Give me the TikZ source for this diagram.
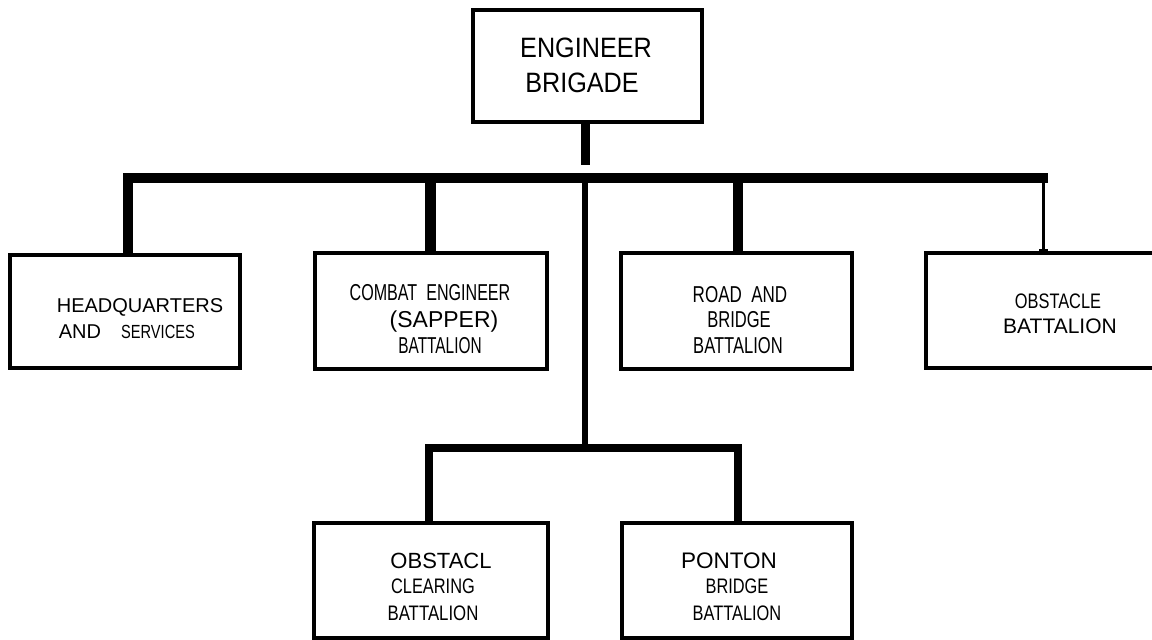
\documentclass[tikz,border=0pt]{standalone}
\usepackage{fontspec}
\setmainfont{Liberation Sans}
\usepackage{graphicx}
\usetikzlibrary{arrows.meta}
\newcommand\nar[2]{\scalebox{#1}[1]{#2}}
\newcommand\fs[1]{\fontsize{#1}{#1}\selectfont}
\begin{document}
\begin{tikzpicture}[x=1pt,y=-1pt,
  unitbox/.style={draw=black,line width=3.5pt,minimum width=#1,inner sep=0pt,line join=miter},
  lbl/.style={anchor=base,inner sep=0pt},
  busline/.style={line width=10pt,line join=miter,line cap=butt},
  thinline/.style={line width=3pt,line cap=butt}]
\useasboundingbox (0,0) rectangle (1152,640);
% boxes
\node[unitbox=229pt,minimum height=112pt,line width=4pt] (brig) at (587.5,66) {};
\node[unitbox=230pt,minimum height=113pt] (hq) at (125,311.5) {};
\node[unitbox=232pt,minimum height=116pt] (combat) at (431,311) {};
\node[unitbox=231pt,minimum height=116pt] (road) at (736.5,311) {};
\node[unitbox=254pt,minimum height=115pt] (obst) at (1053,310.5) {};
\node[unitbox=234pt,minimum height=115pt] (obcl) at (431,580.5) {};
\node[unitbox=230pt,minimum height=115pt] (ponton) at (737,580.5) {};
% coordinates of the buses
\coordinate (stemend) at (585.5,165);
\coordinate (busL) at (127.5,178);
\coordinate (busR) at (1048,178);
\coordinate (sbL) at (429,448);
\coordinate (sbR) at (738,448);
% connectors
\draw[line width=9pt] (brig.south -| stemend) -- (stemend);
\draw[busline] (hq.north -| busL) -- (busL) -- (busR);
\draw[line width=11pt] (combat.north -| 430.5,178) -- (430.5,178);
\draw[line width=10pt] (road.north -| 738,178) -- (738,178);
\draw[line width=6pt] (584.5,178) -- (sbL -| 584.5,0);
\draw[thinline,-{Bar[width=9pt,line width=2.5pt]}] (1043,178) -- (obst.north -| 1043,0);
\draw[line width=8pt,line join=miter] (obcl.north -| sbL) -- (sbL) -- (sbR) -- (ponton.north -| sbR);
% texts
\node[lbl] (t1) at (586,57) {\fs{28}\nar{0.9}{ENGINEER}};
\node[lbl] (t2) at (582,92) {\fs{28}\nar{0.9}{BRIGADE}};
\node[lbl] (t3) at (140,312) {\fs{20}HEADQUARTERS};
\node[lbl] (t4) at (80,338) {\fs{20}AND};
\node[lbl] (t5) at (158,338) {\fs{19}\nar{0.77}{SERVICES}};
\node[lbl] (t6) at (430,300) {\fs{23}\nar{0.7}{COMBAT\ \ ENGINEER}};
\node[lbl] (t7) at (444,327) {\fs{23}(SAPPER)};
\node[lbl] (t8) at (440,353) {\fs{23}\nar{0.67}{BATTALION}};
\node[lbl] (t9) at (740,302) {\fs{23}\nar{0.74}{ROAD\ \ AND}};
\node[lbl] (t10) at (739,327) {\fs{23}\nar{0.72}{BRIDGE}};
\node[lbl] (t11) at (738,353) {\fs{23}\nar{0.72}{BATTALION}};
\node[lbl] (t12) at (1058,308) {\fs{21}\nar{0.78}{OBSTACLE}};
\node[lbl] (t13) at (1060,333) {\fs{21}BATTALION};
\node[lbl] (t14) at (441,568) {\fs{22}OBSTACL};
\node[lbl] (t15) at (433,593) {\fs{21}\nar{0.78}{CLEARING}};
\node[lbl] (t16) at (433,620) {\fs{21}\nar{0.8}{BATTALION}};
\node[lbl] (t17) at (729,568) {\fs{22.5}PONTON};
\node[lbl] (t18) at (737,593) {\fs{21}\nar{0.78}{BRIDGE}};
\node[lbl] (t19) at (737,620) {\fs{21}\nar{0.78}{BATTALION}};
\end{tikzpicture}
\end{document}
